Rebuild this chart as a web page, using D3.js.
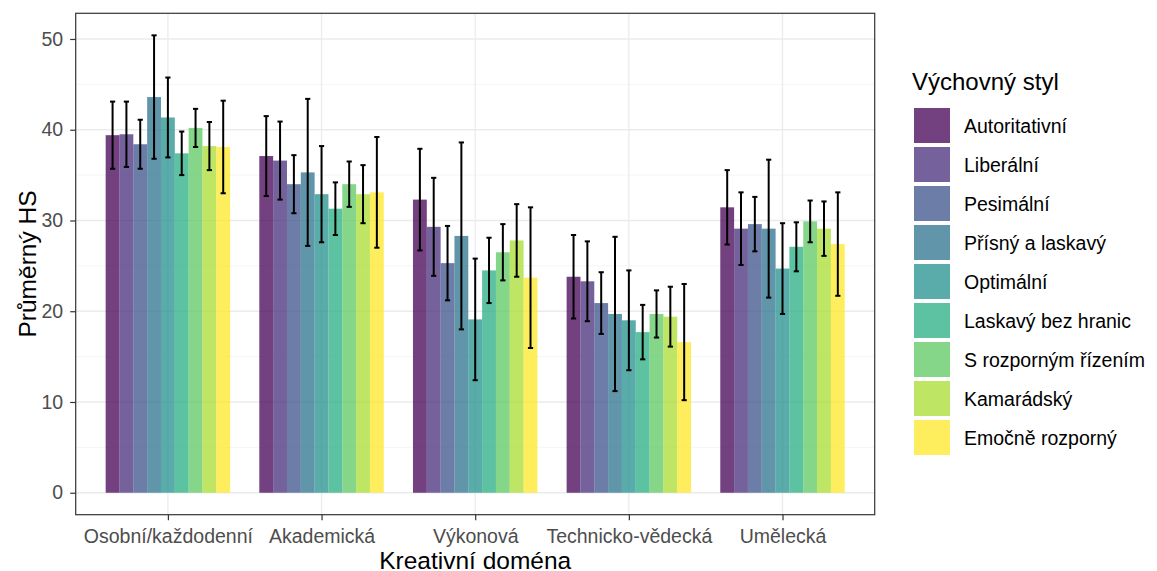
<!DOCTYPE html>
<html>
<head>
<meta charset="utf-8">
<script src="https://cdn.jsdelivr.net/npm/d3@7"></script>
<style>
  body { margin: 0; background: #fff; }
  svg { display: block; font-family: "Liberation Sans", Arial, sans-serif; }
</style>
</head>
<body>
<script>
// categories on the x axis
const domains = ["Osobní/každodenní", "Akademická", "Výkonová", "Technicko-vědecká", "Umělecká"];
// legend series
const styles = ["Autoritativní", "Liberální", "Pesimální", "Přísný a laskavý", "Optimální",
  "Laskavý bez hranic", "S rozporným řízením", "Kamarádský", "Emočně rozporný"];
const colors = ["#440154", "#472D7B", "#3B528B", "#2C728E", "#21908C", "#27AD81", "#5DC863", "#AADC32", "#FDE725"];

// mean HS per style, one array per domain
const meanOsobni = [39.4, 39.5, 38.4, 43.6, 41.35, 37.4, 40.2, 38.2, 38.1];
const meanAkademicka = [37.1, 36.6, 34.0, 35.3, 32.9, 31.3, 34.0, 32.9, 33.1];
const meanVykonova = [32.3, 29.3, 25.3, 28.3, 19.1, 24.5, 26.5, 27.8, 23.7];
const meanTechnicka = [23.8, 23.3, 20.9, 19.7, 19.0, 17.7, 19.7, 19.4, 16.6];
const meanUmelecka = [31.45, 29.1, 29.6, 29.1, 24.7, 27.1, 29.9, 29.1, 27.4];

// standard deviations (error bar half-length)
const sdOsobni = [3.7, 3.6, 2.7, 6.8, 4.4, 2.4, 2.1, 2.65, 5.1];
const sdAkademicka = [4.4, 4.3, 3.2, 8.1, 5.3, 2.9, 2.5, 3.2, 6.1];
const sdVykonova = [5.6, 5.4, 4.1, 10.3, 6.7, 3.6, 3.1, 4.0, 7.75];
const sdTechnicka = [4.6, 4.4, 3.4, 8.5, 5.5, 3.0, 2.6, 3.3, 6.4];
const sdUmelecka = [4.1, 4.0, 3.0, 7.6, 5.0, 2.7, 2.3, 3.0, 5.7];

const yTicks = [0, 10, 20, 30, 40, 50];
const yMinor = [5, 15, 25, 35, 45];

const means = [meanOsobni, meanAkademicka, meanVykonova, meanTechnicka, meanUmelecka];
const sds = [sdOsobni, sdAkademicka, sdVykonova, sdTechnicka, sdUmelecka];

const data = [];
domains.forEach((d, i) => {
  styles.forEach((s, j) => {
    data.push({ domain: d, style: s, mean: means[i][j], sd: sds[i][j] });
  });
});

const width = 1157, height = 571;
const panel = { left: 75.7, right: 874.7, top: 13.3, bottom: 514.7 };

const svg = d3.select("body").append("svg")
  .attr("width", width)
  .attr("height", height);

const x = d3.scalePoint()
  .domain(domains)
  .range([panel.left, panel.right])
  .padding(0.6);

const groupWidth = x.step() * 0.81;
const xInner = d3.scaleBand()
  .domain(styles)
  .range([-groupWidth / 2, groupWidth / 2]);

const y = d3.scaleLinear()
  .domain([-2.42, 52.83])
  .range([panel.bottom, panel.top]);

const color = d3.scaleOrdinal().domain(styles).range(colors);

// grid
const grid = svg.append("g");
grid.selectAll(".minor")
  .data(yMinor)
  .enter().append("line")
  .attr("x1", panel.left).attr("x2", panel.right)
  .attr("y1", d => y(d)).attr("y2", d => y(d))
  .attr("stroke", "#f2f2f2").attr("stroke-width", 0.8);
grid.selectAll(".majorY")
  .data(yTicks)
  .enter().append("line")
  .attr("x1", panel.left).attr("x2", panel.right)
  .attr("y1", d => y(d)).attr("y2", d => y(d))
  .attr("stroke", "#ebebeb").attr("stroke-width", 1.3);
grid.selectAll(".majorX")
  .data(domains)
  .enter().append("line")
  .attr("x1", d => x(d)).attr("x2", d => x(d))
  .attr("y1", panel.top).attr("y2", panel.bottom)
  .attr("stroke", "#ebebeb").attr("stroke-width", 1.3);

// bars
svg.append("g")
  .selectAll("rect")
  .data(data)
  .enter().append("rect")
  .attr("x", d => x(d.domain) + xInner(d.style))
  .attr("y", d => y(d.mean))
  .attr("width", xInner.bandwidth())
  .attr("height", d => y(0) - y(d.mean))
  .attr("fill", d => color(d.style))
  .attr("fill-opacity", 0.75);

// error bars
const capHalf = 2.6;
const err = svg.append("g")
  .attr("stroke", "#000")
  .attr("stroke-width", 2);
const errG = err.selectAll("g")
  .data(data)
  .enter().append("g")
  .attr("transform", d => "translate(" + (x(d.domain) + xInner(d.style) + xInner.bandwidth() / 2) + ",0)");
errG.append("line")
  .attr("x1", 0).attr("x2", 0)
  .attr("y1", d => y(d.mean + d.sd))
  .attr("y2", d => y(d.mean - d.sd));
errG.append("line")
  .attr("x1", -capHalf).attr("x2", capHalf)
  .attr("y1", d => y(d.mean + d.sd)).attr("y2", d => y(d.mean + d.sd));
errG.append("line")
  .attr("x1", -capHalf).attr("x2", capHalf)
  .attr("y1", d => y(d.mean - d.sd)).attr("y2", d => y(d.mean - d.sd));

// panel border
svg.append("rect")
  .attr("x", panel.left).attr("y", panel.top)
  .attr("width", panel.right - panel.left)
  .attr("height", panel.bottom - panel.top)
  .attr("fill", "none")
  .attr("stroke", "#333333")
  .attr("stroke-width", 1.2);

// axes
const yAxis = svg.append("g")
  .attr("transform", "translate(" + panel.left + ",0)")
  .call(d3.axisLeft(y).tickValues(yTicks).tickSize(5.5).tickPadding(7));
yAxis.select(".domain").remove();
yAxis.selectAll("line").attr("stroke", "#333333").attr("stroke-width", 1.2);
yAxis.selectAll("text")
  .attr("fill", "#4d4d4d")
  .style("font-size", "19.5px")
  .style("font-family", "Liberation Sans, Arial, sans-serif");

const xAxis = svg.append("g")
  .attr("transform", "translate(0," + panel.bottom + ")")
  .call(d3.axisBottom(x).tickSize(5.5).tickPadding(8.5));
xAxis.select(".domain").remove();
xAxis.selectAll("line").attr("stroke", "#333333").attr("stroke-width", 1.2);
xAxis.selectAll("text")
  .attr("fill", "#4d4d4d")
  .style("font-size", "19.5px")
  .style("font-family", "Liberation Sans, Arial, sans-serif");

// axis titles
svg.append("text")
  .attr("x", (panel.left + panel.right) / 2)
  .attr("y", 569)
  .attr("text-anchor", "middle")
  .style("font-size", "24.5px")
  .text("Kreativní doména");

svg.append("text")
  .attr("transform", "translate(27," + (panel.top + panel.bottom) / 2 + ") rotate(-90)")
  .attr("text-anchor", "middle")
  .attr("dominant-baseline", "central")
  .style("font-size", "24.5px")
  .text("Průměrný HS");

// legend
const legend = svg.append("g");
legend.append("text")
  .attr("x", 912)
  .attr("y", 90)
  .style("font-size", "24px")
  .text("Výchovný styl");

const item = legend.selectAll(".item")
  .data(styles)
  .enter().append("g")
  .attr("transform", (d, i) => "translate(914," + (108 + i * 39) + ")");
item.append("rect")
  .attr("width", 36)
  .attr("height", 35)
  .attr("fill", d => color(d))
  .attr("fill-opacity", 0.75);
item.append("text")
  .attr("x", 50)
  .attr("y", 17.5)
  .attr("dominant-baseline", "central")
  .style("font-size", "19.5px")
  .text(d => d);
</script>
</body>
</html>
